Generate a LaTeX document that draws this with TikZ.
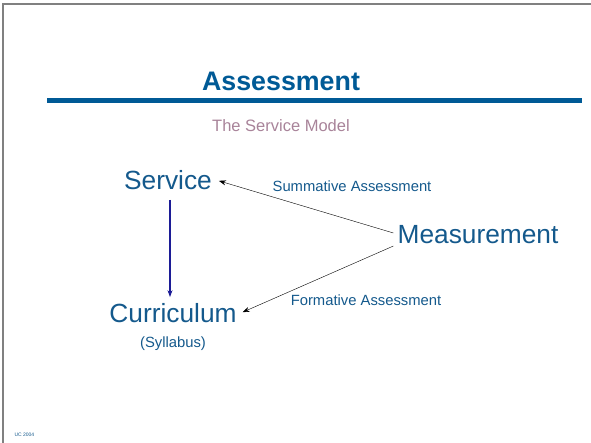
\documentclass[tikz,border=0pt]{standalone}
\usepackage{fontspec}
\setmainfont{Liberation Sans}
\usetikzlibrary{arrows.meta,positioning}
\definecolor{titleblue}{HTML}{005A96}
\definecolor{textblue}{HTML}{14598C}
\definecolor{mauve}{HTML}{A88399}
\definecolor{arrowblue}{HTML}{1C1C96}

\begin{document}
\begin{tikzpicture}[x=1pt,y=-1pt,>={Stealth[length=7pt,width=5pt]},
    big/.style={text=textblue,font=\fontsize{26.3}{29}\selectfont,inner sep=4pt},
    small/.style={text=textblue,font=\fontsize{14.8}{16}\selectfont,inner sep=2pt}]
   \useasboundingbox (0,0) rectangle (591,443);
   % frame
   \draw[gray,line width=1.5pt] (3,443) -- (3,4) -- (591,4);
   % title
   \node[text=titleblue,font=\fontsize{26.8}{30}\selectfont\bfseries] (title) at (281,81) {Assessment};
   \fill[titleblue] (47,98) rectangle (582,103);
   \node[text=mauve,font=\fontsize{16.5}{18}\selectfont] (sub) at (281,126) {The Service Model};
   % model
   \node[big] (serv) at (168,180) {Service};
   \node[big] (curr) at (173,313) {Curriculum};
   \node[small] (syl) [below=22pt of curr.center] {(Syllabus)};
   \node[big] (meas) at (478,235) {Measurement};
   \node[small] (summ) at (352,186) {Summative Assessment};
   \node[small] (form) at (366,300) {Formative Assessment};
   \draw[->,arrowblue,line width=1.4pt,shorten <=6pt,shorten >=2pt] ([xshift=2pt]serv.south) -- ([xshift=2pt]serv.south |- curr.north);
   \draw[->,shorten >=3pt] ([yshift=2pt]meas.west) -- (serv.east);
   \draw[->,shorten >=2pt] ([yshift=-11pt]meas.west) -- (curr.east);
   \node[text=textblue,font=\fontsize{5}{6}\selectfont,anchor=west] (uc) at (11,435) {UC 2004};
\end{tikzpicture}
\end{document}
